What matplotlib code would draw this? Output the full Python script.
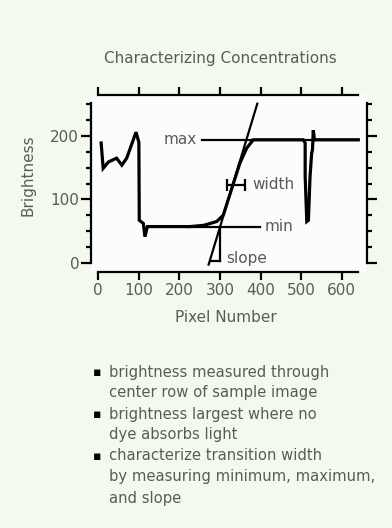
import matplotlib
matplotlib.use("Agg")
import matplotlib.pyplot as plt
from matplotlib.ticker import MultipleLocator, FixedLocator

# ---- data ----
profile_x = [7, 12, 25, 45, 58, 70, 84, 93, 100, 101, 111, 115, 121, 226, 260, 292,
             308, 320, 333, 349, 366, 382, 505, 510, 510, 514, 518, 522, 526, 528, 530, 533, 641]
profile_y = [189, 149, 159, 165, 154, 165, 190, 206, 190, 67, 62, 41, 57, 57, 59, 65,
             75, 99, 125, 157, 181, 194, 194, 189, 136, 65, 67, 136, 173, 178, 209, 194, 194]

max_level = 194
max_line_x = [255, 641]
min_level = 57
min_line_x = [218, 398]
slope_x = [272, 392]
slope_y = [-3, 251]
slope_leg_x = 300
slope_leg_y = [57, 2]
slope_base_x = [278, 300]
slope_base_y = 2
width_x = [317, 362]
width_y = 123

x_ticks = [0, 100, 200, 300, 400, 500, 600]
y_ticks = [0, 100, 200]

title = "Characterizing Concentrations"
x_label = "Pixel Number"
y_label = "Brightness"
bullets = [
    ["brightness measured through", "center row of sample image"],
    ["brightness largest where no", "dye absorbs light"],
    ["characterize transition width", "by measuring minimum, maximum,", "and slope"],
]

# ---- style ----
BG = "#f4f9ee"
TXT = "#5a5a5a"
FONT = "DejaVu Sans"
FS = 11
plt.rcParams["font.family"] = [FONT]

W, H = 392, 528
fig = plt.figure(figsize=(W / 100, H / 100), dpi=100, facecolor=BG)

# axes box spans the (offset) spine frame
ax = fig.add_axes([91 / W, 1 - 271.7 / H, (366.7 - 91) / W, (271.7 - 95) / H])
ax.set_facecolor("#fcfcfc")
ax.set_xlim(-18, 661.7)
ax.set_ylim(-14.2, 264.7)

for s in ["top", "bottom"]:
    ax.spines[s].set_bounds(0, 641)
for s in ["left", "right"]:
    ax.spines[s].set_bounds(0, 252)
for s in ax.spines.values():
    s.set_linewidth(1.6)
    s.set_color("black")

ax.xaxis.set_major_locator(FixedLocator(x_ticks))
ax.yaxis.set_major_locator(FixedLocator(y_ticks))
ax.yaxis.set_minor_locator(MultipleLocator(25))
ax.tick_params(axis="x", which="major", direction="out", length=6, width=1.6,
               top=True, bottom=True, labeltop=False, labelsize=FS, labelcolor=TXT, pad=2)
ax.tick_params(axis="y", which="major", direction="out", length=7, width=1.6,
               left=True, right=True, labelright=False, labelsize=FS, labelcolor=TXT, pad=1.5)
ax.tick_params(axis="y", which="minor", direction="out", length=3.5, width=1.6,
               left=True, right=True)

# profile
ax.plot(profile_x, profile_y, color="black", lw=2.3, solid_joinstyle="miter")
# annotations
ax.plot(max_line_x, [max_level, max_level], color="black", lw=1.6)
ax.plot(min_line_x, [min_level, min_level], color="black", lw=1.6)
ax.plot(slope_x, slope_y, color="black", lw=1.6, clip_on=False)
ax.plot([slope_leg_x, slope_leg_x], slope_leg_y, color="black", lw=1.6)
ax.plot(slope_base_x, [slope_base_y, slope_base_y], color="black", lw=1.6)
ax.errorbar([sum(width_x) / 2], [width_y], xerr=[(width_x[1] - width_x[0]) / 2],
            fmt="none", ecolor="black", elinewidth=1.6, capsize=4, capthick=1.6)

ax.text(max_line_x[0] - 13, max_level, "max", color=TXT, fontsize=FS, ha="right", va="center")
ax.text(min_line_x[1] + 13, min_level, "min", color=TXT, fontsize=FS, ha="left", va="center")
ax.text(width_x[1] + 19, width_y, "width", color=TXT, fontsize=FS, ha="left", va="center")
ax.text(slope_leg_x + 16, 7, "slope", color=TXT, fontsize=FS, ha="left", va="center")

fig.text(220 / W, 1 - 58.3 / H, title, color=TXT, fontsize=FS, ha="center", va="center")
fig.text(28 / W, 1 - 175 / H, y_label, color=TXT, fontsize=FS, ha="center", va="center", rotation=90)
fig.text(226 / W, 1 - 317 / H, x_label, color=TXT, fontsize=FS, ha="center", va="center")

# bullet list
y = 372
for group in bullets:
    fig.text(96.7 / W, 1 - y / H, "\u25aa", color="black", fontsize=9, ha="center", va="center")
    for line in group:
        fig.text(109.3 / W, 1 - y / H, line, color=TXT, fontsize=10.6, ha="left", va="center")
        y += 21

fig.savefig("out.png", dpi=100, facecolor=BG)
